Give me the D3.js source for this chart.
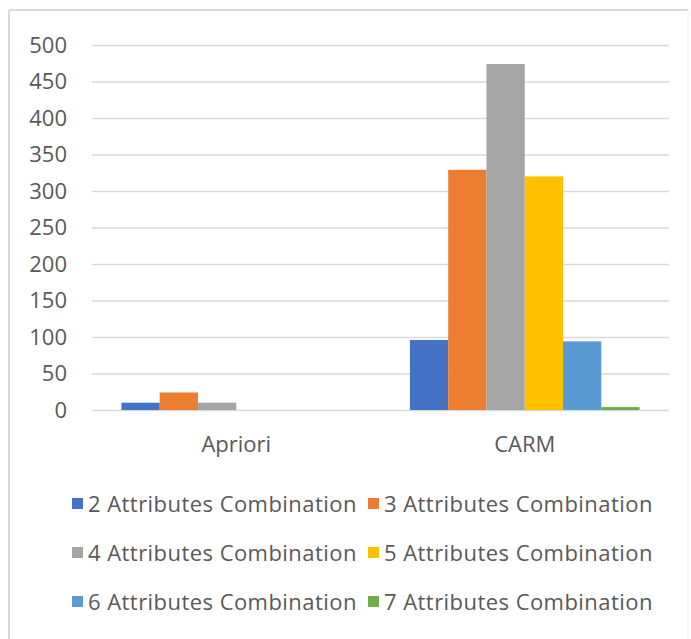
<!DOCTYPE html>
<html>
<head>
<meta charset="utf-8">
<script src="https://cdn.jsdelivr.net/npm/d3@7"></script>
<style>
  body { margin: 0; background: #fff; }
  text { font-family: "Open Sans", sans-serif; fill: #595959; }
</style>
</head>
<body>
<div id="chart"></div>
<script>
// Data
const categories = ["Apriori", "CARM"];
const seriesNames = [
    "2 Attributes Combination", "3 Attributes Combination",
    "4 Attributes Combination", "5 Attributes Combination",
    "6 Attributes Combination", "7 Attributes Combination"
];
const aprioriValues = [10, 24, 10, 0, 0, 0];
const carmValues = [96, 329, 474, 320, 94, 4];
const yTicks = [0, 50, 100, 150, 200, 250, 300, 350, 400, 450, 500];
const colors = ["#4472C4", "#ED7D31", "#A5A5A5", "#FFC000", "#5B9BD5", "#70AD47"];

const width = 691, height = 639;
const plot = {left: 92, right: 669, top: 45, bottom: 410};

const svg = d3.select("#chart")
    .append("svg")
    .attr("width", width)
    .attr("height", height);

// frame of the chart area
svg.append("line")
    .attr("x1", 9).attr("x2", 688).attr("y1", 10).attr("y2", 10)
    .attr("stroke", "#d9d9d9").attr("stroke-width", 2);
svg.append("line")
    .attr("x1", 9).attr("x2", 9).attr("y1", 10).attr("y2", height)
    .attr("stroke", "#d9d9d9").attr("stroke-width", 2);
svg.append("line")
    .attr("x1", 688).attr("x2", 688).attr("y1", 10).attr("y2", height)
    .attr("stroke", "#ececec").attr("stroke-width", 1);

const rows = categories.map((c, i) => ({
    category: c,
    values: i === 0 ? aprioriValues : carmValues
}));

const x0 = d3.scaleBand()
    .domain(categories)
    .range([plot.left, plot.right])
    .paddingInner(0.204)
    .paddingOuter(0.102);

const x1 = d3.scaleBand()
    .domain(seriesNames)
    .range([0, x0.bandwidth()]);

const y = d3.scaleLinear()
    .domain([0, 500])
    .range([plot.bottom, plot.top]);

const color = d3.scaleOrdinal()
    .domain(seriesNames)
    .range(colors);

// gridlines + y labels
const yAxis = svg.append("g")
    .attr("transform", `translate(${plot.left},0)`)
    .call(d3.axisLeft(y).tickValues(yTicks)
        .tickSize(-(plot.right - plot.left))
        .tickPadding(25)
        .tickFormat(d3.format("d")));
yAxis.select(".domain").remove();
yAxis.selectAll(".tick line")
    .attr("stroke", "#d9d9d9")
    .attr("stroke-width", 1.5);
yAxis.selectAll(".tick text")
    .style("font-size", "22px")
    .style("font-family", "'Open Sans', sans-serif")
    .attr("fill", "#595959");

// bars
svg.append("g")
    .selectAll("g")
    .data(rows)
    .join("g")
    .attr("transform", d => `translate(${x0(d.category)},0)`)
    .selectAll("rect")
    .data(d => d.values.map((v, i) => ({key: seriesNames[i], value: v})))
    .join("rect")
    .attr("x", d => x1(d.key))
    .attr("width", x1.bandwidth())
    .attr("y", d => y(d.value))
    .attr("height", d => y(0) - y(d.value))
    .attr("fill", d => color(d.key));

// category labels
const xAxis = svg.append("g")
    .attr("transform", `translate(0,${plot.bottom})`)
    .call(d3.axisBottom(x0).tickSize(0).tickPadding(26));
xAxis.select(".domain").remove();
xAxis.selectAll(".tick text")
    .style("font-size", "22px")
    .style("font-family", "'Open Sans', sans-serif")
    .attr("fill", "#595959");

// legend, two columns by three rows
const legend = svg.append("g");
seriesNames.forEach((name, i) => {
    const col = i % 2, row = Math.floor(i / 2);
    const g = legend.append("g")
        .attr("transform", `translate(${col === 0 ? 72 : 368},${512 + row * 49})`);
    g.append("rect")
        .attr("x", 0).attr("y", -14)
        .attr("width", 11).attr("height", 11)
        .attr("fill", color(name));
    g.append("text")
        .attr("x", 16)
        .attr("y", 0)
        .style("font-size", "22px")
        .style("letter-spacing", "0.45px")
        .text(name);
});
</script>
</body>
</html>
